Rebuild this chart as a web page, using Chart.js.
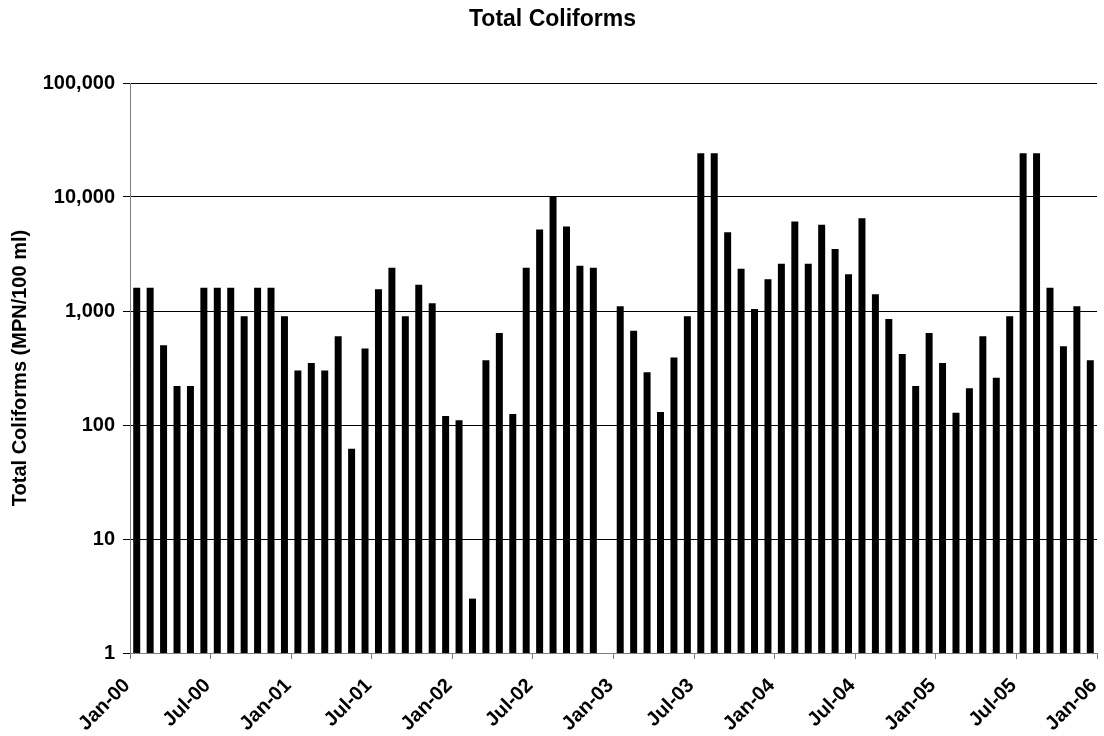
<!DOCTYPE html>
<html>
<head>
<meta charset="utf-8">
<title>Total Coliforms</title>
<script src="https://cdn.jsdelivr.net/npm/chart.js@4.4.1/dist/chart.umd.min.js"></script>
<style>
  html, body { margin: 0; padding: 0; background: #fff; }
  #wrap { width: 1104px; height: 736px; }
</style>
</head>
<body>
<div id="wrap"><canvas id="coliformChart"></canvas></div>
<script>
// Monthly total coliform results, Jan-00 .. Dec-05

const months = [
  'Jan-00', 'Feb-00', 'Mar-00', 'Apr-00', 'May-00', 'Jun-00', 'Jul-00', 'Aug-00', 'Sep-00', 'Oct-00', 'Nov-00', 'Dec-00',
  'Jan-01', 'Feb-01', 'Mar-01', 'Apr-01', 'May-01', 'Jun-01', 'Jul-01', 'Aug-01', 'Sep-01', 'Oct-01', 'Nov-01', 'Dec-01',
  'Jan-02', 'Feb-02', 'Mar-02', 'Apr-02', 'May-02', 'Jun-02', 'Jul-02', 'Aug-02', 'Sep-02', 'Oct-02', 'Nov-02', 'Dec-02',
  'Jan-03', 'Feb-03', 'Mar-03', 'Apr-03', 'May-03', 'Jun-03', 'Jul-03', 'Aug-03', 'Sep-03', 'Oct-03', 'Nov-03', 'Dec-03',
  'Jan-04', 'Feb-04', 'Mar-04', 'Apr-04', 'May-04', 'Jun-04', 'Jul-04', 'Aug-04', 'Sep-04', 'Oct-04', 'Nov-04', 'Dec-04',
  'Jan-05', 'Feb-05', 'Mar-05', 'Apr-05', 'May-05', 'Jun-05', 'Jul-05', 'Aug-05', 'Sep-05', 'Oct-05', 'Nov-05', 'Dec-05'
];

// MPN/100 ml, null = no sample
const coliforms = [
  1600, 1600, 500, 220, 220, 1600, 1600, 1600, 900, 1600, 1600, 900,
  300, 350, 300, 600, 62, 470, 1550, 2400, 900, 1700, 1170, 120,
  110, 3, 370, 640, 125, 2400, 5200, 10000, 5500, 2500, 2400, null,
  1100, 670, 290, 130, 390, 900, 24196, 24196, 4900, 2350, 1040, 1900,
  2600, 6100, 2600, 5700, 3500, 2100, 6500, 1400, 850, 420, 220, 640,
  350, 128, 210, 600, 260, 900, 24196, 24196, 1600, 490, 1100, 370
];

const tickLabels = ['Jan-00', 'Jul-00', 'Jan-01', 'Jul-01', 'Jan-02', 'Jul-02', 'Jan-03',
                    'Jul-03', 'Jan-04', 'Jul-04', 'Jan-05', 'Jul-05', 'Jan-06'];
const yTicks = [1, 10, 100, 1000, 10000, 100000];

const FONT = '"Liberation Sans", Arial, sans-serif';

new Chart(document.getElementById('coliformChart'), {
  type: 'bar',
  data: {
    labels: months,
    datasets: [{
      data: coliforms,
      backgroundColor: '#000',
      borderWidth: 0,
      categoryPercentage: 1,
      barPercentage: 0.52
    }]
  },
  options: {
    responsive: true,
    maintainAspectRatio: false,
    animation: false,
    layout: { padding: { left: 8, right: 7, top: 0, bottom: 0 } },
    plugins: {
      legend: { display: false },
      tooltip: { enabled: false },
      title: {
        display: true,
        text: 'Total Coliforms',
        color: '#000',
        font: { family: FONT, size: 23, weight: 'bold' },
        padding: { top: 6, bottom: 49.4 }
      }
    },
    scales: {
      // bars sit on the category axis; the month labels come from a linear axis
      // so they land on the boundaries every six months
      x: { display: false },
      months: {
        type: 'linear',
        axis: 'x',
        position: 'bottom',
        offset: false,
        min: 0,
        max: 72,
        afterBuildTicks: axis => { axis.ticks = tickLabels.map((_, i) => ({ value: i * 6 })); },
        afterFit: axis => {
          axis.height = 83;
          axis.paddingLeft = 0;
          axis.paddingRight = 0;
        },
        ticks: {
          autoSkip: false,
          maxRotation: 45,
          minRotation: 45,
          padding: 15,
          labelOffset: -3,
          color: '#000',
          font: { family: FONT, size: 20, weight: 'bold' },
          callback: v => tickLabels[v / 6]
        },
        grid: { offset: false, drawOnChartArea: false, tickLength: 6, color: '#808080' },
        border: { color: '#808080' }
      },
      y: {
        type: 'logarithmic',
        min: 1,
        max: 100000,
        afterBuildTicks: axis => { axis.ticks = yTicks.map(v => ({ value: v })); },
        afterFit: axis => { axis.width = 122; },
        ticks: {
          color: '#000',
          padding: 8,
          font: { family: FONT, size: 20, weight: 'bold' },
          callback: v => v.toLocaleString('en-US')
        },
        grid: { color: '#000', tickLength: 7 },
        border: { color: '#808080' },
        title: {
          display: true,
          text: 'Total Coliforms (MPN/100 ml)',
          color: '#000',
          font: { family: FONT, size: 20, weight: 'bold' },
          padding: { top: 0, bottom: 0 }
        }
      }
    }
  }
});
</script>
</body>
</html>
